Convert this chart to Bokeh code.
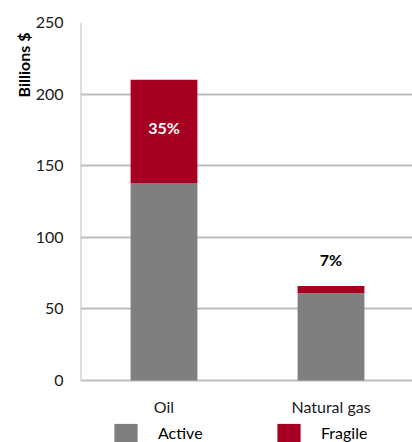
import math
from bokeh.plotting import figure
from bokeh.models import (ColumnDataSource, Range1d, FixedTicker, Legend, LegendItem, Title)
from bokeh.core.properties import value
from bokeh.embed import file_html
from bokeh.resources import INLINE

categories = ["Oil", "Natural gas"]
active = [138, 61]
fragile = [72, 5]
share_labels = ["35%", "7%"]
yticks = [0, 50, 100, 150, 200, 250]

GRAY = "#7f7f7f"
RED = "#a50021"
LINE = "#bdbdbd"
FONT = "Lato"

xs = list(range(len(categories)))
totals = [a + f for a, f in zip(active, fragile)]
src = ColumnDataSource(dict(x=xs, active=active, fragile=fragile, total=totals))

X_START = -0.5
p = figure(width=412, height=442, output_backend="svg", toolbar_location=None,
           x_range=Range1d(X_START, 1.488), y_range=Range1d(-43.3, yticks[-1]),
           min_border_left=80, min_border_right=0, min_border_top=22, min_border_bottom=0)
p.outline_line_color = None
p.background_fill_color = "white"
p.border_fill_color = "white"

r_act = p.vbar(x="x", bottom=0, top="active", width=0.4, source=src, fill_color=GRAY, line_color=None)
r_fra = p.vbar(x="x", bottom="active", top="total", width=0.4, source=src, fill_color=RED, line_color=None)

# y axis line (from 0 to top tick)
p.segment(x0=[X_START], y0=[yticks[0]], x1=[X_START], y1=[yticks[-1]], line_color=LINE, line_width=2)

# percentage labels
p.text(x=[xs[0]], y=[active[0] + fragile[0] / 2], text=[share_labels[0]], text_align="center",
       text_baseline="middle", y_offset=-4, text_color="white", text_font=value(FONT),
       text_font_style="bold", text_font_size="16px")
p.text(x=[xs[1]], y=[totals[1]], text=[share_labels[1]], text_align="center",
       text_baseline="middle", y_offset=-26, text_color="black", text_font=value(FONT),
       text_font_style="bold", text_font_size="16px")

# category labels
p.text(x=xs, y=[0] * len(xs), text=categories, text_align="center", text_baseline="middle",
       y_offset=26, text_color="#1a1a1a", text_font=value(FONT), text_font_size="16px")

# axes
p.xaxis.visible = False
p.yaxis.ticker = FixedTicker(ticks=yticks)
p.yaxis.axis_line_color = None
p.yaxis.major_tick_line_color = None
p.yaxis.minor_tick_line_color = None
p.yaxis.major_label_text_font = FONT
p.yaxis.major_label_text_font_size = "16px"
p.yaxis.major_label_text_color = "#1a1a1a"
p.yaxis.major_label_standoff = 11
p.xgrid.grid_line_color = None
p.ygrid.ticker = FixedTicker(ticks=yticks)
p.ygrid.grid_line_color = LINE
p.ygrid.grid_line_width = 2

# y title
p.add_layout(Title(text="Billions $", align="right", offset=10, text_font=FONT,
                   text_font_style="bold", text_font_size="16px", text_color="black",
                   standoff=0), "left")

legend = Legend(items=[LegendItem(label="Active", renderers=[r_act]),
                       LegendItem(label="Fragile", renderers=[r_fra])],
                orientation="horizontal", location=(31, -2.5), padding=0, margin=0,
                glyph_width=29, glyph_height=24, label_standoff=18, label_width=116,
                spacing=0, border_line_color=None, background_fill_alpha=0,
                label_text_font=FONT, label_text_font_size="16px", label_text_color="black")
p.add_layout(legend, "center")

open("out.html", "w").write(file_html(p, INLINE))
